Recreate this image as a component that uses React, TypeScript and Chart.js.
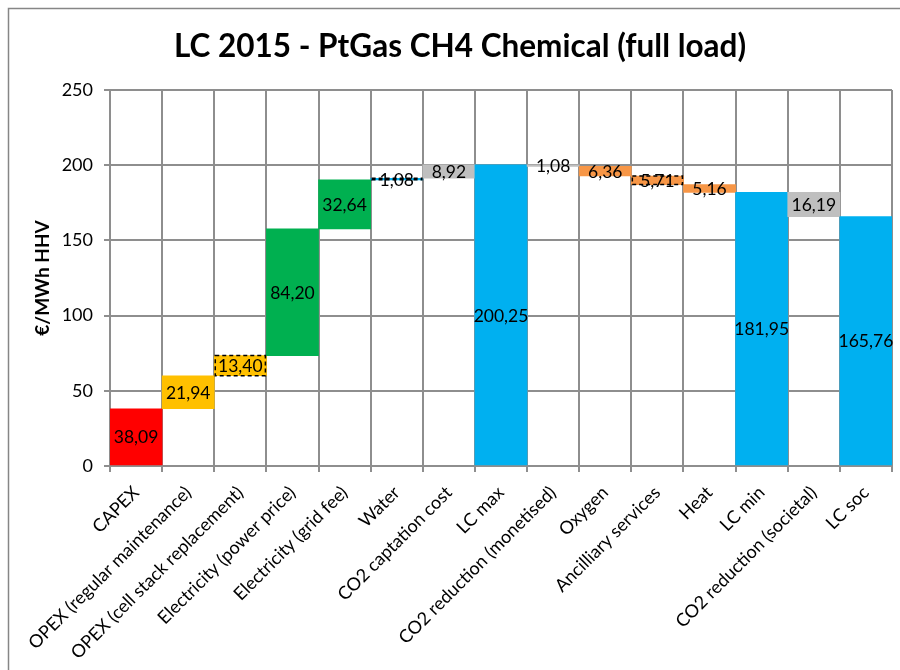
import React, { useEffect, useRef } from "react";
import { Chart, registerables } from "chart.js";

Chart.register(...registerables);

const chartTitle = "LC 2015 - PtGas CH4 Chemical (full load)";
const yAxisTitle = "€/MWh HHV";

const categories = [
  "CAPEX",
  "OPEX (regular maintenance)",
  "OPEX (cell stack replacement)",
  "Electricity (power price)",
  "Electricity (grid fee)",
  "Water",
  "CO2 captation cost",
  "LC max",
  "CO2 reduction (monetised)",
  "Oxygen",
  "Ancilliary services",
  "Heat",
  "LC min",
  "CO2 reduction (societal)",
  "LC soc",
];

// positive = cost added, negative = reduction, totals flagged below
const stepValues = [38.09, 21.94, 13.4, 84.2, 32.64, 1.08, 8.92, 200.25, -1.08, -6.36, -5.71, -5.16, 181.95, -16.19, 165.76];
const totalFlags = [false, false, false, false, false, false, false, true, false, false, false, false, true, false, true];
const barColors = [
  "#FF0000", "#FFC000", "#FFC000", "#00B050", "#00B050", "#00B0F0", "#BFBFBF",
  "#00B0F0", "#BFBFBF", "#F79646", "#F79646", "#F79646", "#00B0F0", "#BFBFBF", "#00B0F0",
];
const dashedFlags = [false, false, true, false, false, true, false, false, false, false, true, false, false, false, false];

const yTicks = { min: 0, max: 250, step: 50 };

const FONT = "Lato, 'DejaVu Sans', sans-serif";
const GRID = "#8E8E8E";

function buildRanges(): [number, number][] {
  const out: [number, number][] = [];
  let run = 0;
  stepValues.forEach((v, i) => {
    if (totalFlags[i]) {
      out.push([0, v]);
      run = v;
    } else {
      out.push([run, run + v]);
      run += v;
    }
  });
  return out;
}

function fmt(v: number) {
  return Math.abs(v).toFixed(2).replace(".", ",");
}

const decorPlugin = {
  id: "decor",
  beforeDraw(chart: any) {
    const ctx = chart.ctx;
    ctx.save();
    ctx.fillStyle = "#ffffff";
    ctx.fillRect(0, 0, chart.width, chart.height);
    ctx.strokeStyle = "#868686";
    ctx.lineWidth = 1.5;
    ctx.strokeRect(8.5, 8.5, chart.width + 20, chart.height + 20);
    ctx.fillStyle = "#000";
    ctx.font = `bold 31.5px ${FONT}`;
    ctx.textAlign = "center";
    ctx.textBaseline = "middle";
    ctx.fillText(chartTitle, 460, 47);
    ctx.restore();
  },
  afterDatasetsDraw(chart: any) {
    const ctx = chart.ctx;
    const meta = chart.getDatasetMeta(0);
    ctx.save();
    meta.data.forEach((bar: any, i: number) => {
      if (!dashedFlags[i]) return;
      const left = bar.x - bar.width / 2;
      const top = Math.min(bar.y, bar.base);
      const h = Math.abs(bar.base - bar.y);
      ctx.strokeStyle = "#000";
      ctx.lineWidth = 1.5;
      ctx.setLineDash([4, 3]);
      ctx.strokeRect(left + 1, top, bar.width - 2, h);
    });
    ctx.setLineDash([]);
    ctx.fillStyle = "#000";
    ctx.font = `17.5px ${FONT}`;
    ctx.textAlign = "center";
    ctx.textBaseline = "middle";
    meta.data.forEach((bar: any, i: number) => {
      const cy = (bar.y + bar.base) / 2;
      ctx.fillText(fmt(stepValues[i]), bar.x, cy + 1);
    });
    ctx.restore();
  },
};

export default function App() {
  const ref = useRef<HTMLCanvasElement | null>(null);

  useEffect(() => {
    if (!ref.current) return;
    const chart = new Chart(ref.current, {
      type: "bar",
      data: {
        labels: categories,
        datasets: [
          {
            data: buildRanges() as any,
            backgroundColor: barColors,
            borderWidth: 0,
            categoryPercentage: 1,
            barPercentage: 1,
          },
        ],
      },
      options: {
        responsive: false,
        animation: false,
        layout: { padding: { left: 0, right: 8, top: 90, bottom: 0 } },
        plugins: {
          legend: { display: false },
          tooltip: { enabled: false },
          title: { display: false },
        },
        scales: {
          x: {
            offset: true,
            grid: {
              offset: true,
              color: GRID,
              lineWidth: 2,
              tickLength: 6,
              drawTicks: true,
            },
            border: { color: GRID, width: 2 },
            ticks: {
              autoSkip: false,
              maxRotation: 45,
              minRotation: 45,
              color: "#000",
              font: { family: FONT, size: 18 },
              padding: 10,
            },
            afterFit(scale: any) {
              scale.height = 204;
            },
          },
          y: {
            min: yTicks.min,
            max: yTicks.max,
            grid: { color: GRID, lineWidth: 2, tickLength: 6 },
            border: { color: GRID, width: 2 },
            ticks: {
              stepSize: yTicks.step,
              color: "#000",
              font: { family: FONT, size: 18 },
              padding: 11,
            },
            title: {
              display: true,
              text: yAxisTitle,
              color: "#000",
              font: { family: FONT, size: 19, weight: "bold" },
              padding: { top: 31, bottom: 0 },
            },
            afterFit(scale: any) {
              scale.width = 110;
            },
          },
        },
      },
      plugins: [decorPlugin],
    });
    return () => chart.destroy();
  }, []);

  return (
    <div style={{ position: "absolute", left: 0, top: 0, width: 900, height: 670 }}>
      <canvas ref={ref} width={900} height={670} />
    </div>
  );
}
